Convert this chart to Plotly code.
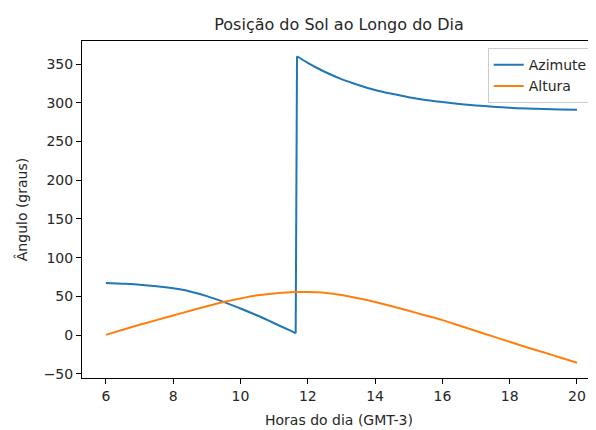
import plotly.graph_objects as go

# Hours of the day (GMT-3); the azimuth wraps from ~0 to 360 at solar transit
horas = [6, 6.5, 7, 7.5, 8, 8.5, 9, 9.5, 10, 10.5, 11, 11.5, 11.64, 11.68,
         12, 12.25, 12.5, 13, 13.5, 14, 14.5, 15, 15.5, 16, 16.5, 17, 17.5, 18,
         18.5, 19, 19.5, 20]

azimute = [67.5, 66.5, 65.3, 63.3, 60.5, 56.5, 50.5, 43, 34.5, 25.5, 15.5, 5.5, 2.5, 360,
           351.5, 345.5, 340, 330.5, 323, 316.5, 311.5, 307, 303.5, 301, 298.5, 296.5, 295,
           293.5, 292.5, 291.8, 291.2, 291]

altura = [0.5, 7, 13.5, 19.5, 25.5, 31.5, 37.5, 43, 47.5, 51.5, 54, 55.5, 55.7, 55.7,
          55.8, 55.4, 54.8, 52, 47.8, 43, 37.5, 31.5, 25.5, 19.5, 12.5, 5.5, -1.5, -8.5,
          -15.5, -22, -28.8, -35.5]

series_names = ["Azimute", "Altura"]
series_colors = ["#1f77b4", "#ff7f0e"]

x_ticks = [6, 8, 10, 12, 14, 16, 18, 20]
y_ticks = [-50, 0, 50, 100, 150, 200, 250, 300, 350]

font = "DejaVu Sans"
txt = "#262626"

# the page places the figure 8px from the top-left corner (default body margin)
OFF = 8

# index of the last point before the azimuth wraps around 360
j = horas.index(11.64)

fig = go.Figure()
az_col, alt_col = series_colors
# Azimute: smooth morning branch, vertical wrap, smooth afternoon branch
fig.add_trace(go.Scatter(x=horas[:j + 1], y=azimute[:j + 1], mode="lines",
                         name=series_names[0], legendgroup="az",
                         line=dict(color=az_col, width=2, shape="spline", smoothing=0.8)))
fig.add_trace(go.Scatter(x=horas[j:j + 2], y=azimute[j:j + 2], mode="lines",
                         name=series_names[0], legendgroup="az", showlegend=False,
                         line=dict(color=az_col, width=2)))
fig.add_trace(go.Scatter(x=horas[j + 1:], y=azimute[j + 1:], mode="lines",
                         name=series_names[0], legendgroup="az", showlegend=False,
                         line=dict(color=az_col, width=2, shape="spline", smoothing=0.8)))
fig.add_trace(go.Scatter(x=horas, y=altura, mode="lines", name=series_names[1],
                         line=dict(color=alt_col, width=2, shape="spline", smoothing=0.8)))

fig.update_layout(
    width=596, height=430,
    margin=dict(l=82 - OFF, r=OFF, t=41 - OFF, b=430 - (378 - OFF)),
    paper_bgcolor="white", plot_bgcolor="white",
    font=dict(family=font, size=14, color=txt),
    title=dict(text="Posição do Sol ao Longo do Dia", x=0.5, xref="paper",
               xanchor="center", y=1 - (24 - OFF) / 430, yref="container", yanchor="middle",
               font=dict(family=font, size=16, color=txt)),
    legend=dict(x=0.9936, xanchor="right", y=0.979, yanchor="top",
                bgcolor="white", bordercolor="#cccccc", borderwidth=1,
                font=dict(family=font, size=14, color=txt), tracegroupgap=0),
    showlegend=True,
)

fig.update_xaxes(range=[5.29, 20.565], tickvals=x_ticks,
                 ticktext=[str(v) for v in x_ticks],
                 showgrid=False, zeroline=False, showline=True, mirror=True,
                 linecolor="black", linewidth=1, ticks="outside", ticklen=5,
                 tickcolor="black", tickwidth=1,
                 title=dict(text="Horas do dia (GMT-3)", standoff=12,
                            font=dict(family=font, size=14, color=txt)))
fig.update_yaxes(range=[-55.2, 379.7], tickvals=y_ticks,
                 ticktext=[("\u2212" + str(-v)) if v < 0 else str(v) for v in y_ticks],
                 showgrid=False, zeroline=False, showline=True, mirror=False,
                 linecolor="black", linewidth=1, ticks="outside", ticklen=5,
                 tickcolor="black", tickwidth=1,
                 title=dict(text="Ângulo (graus)", standoff=12,
                            font=dict(family=font, size=14, color=txt)))

fig.write_html("out.html")
